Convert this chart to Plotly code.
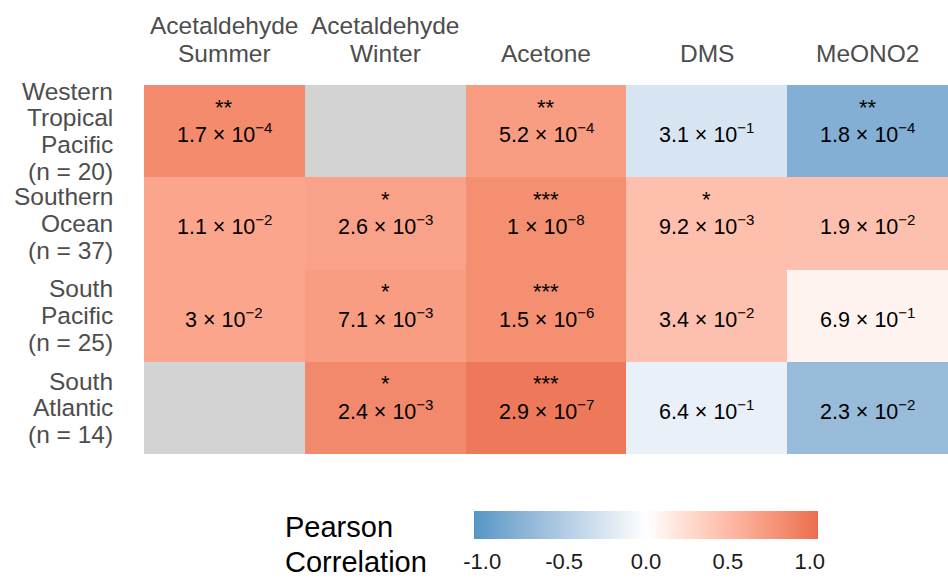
import plotly.graph_objects as go
import numpy as np

# ---------------- data ----------------
compounds = ["Acetaldehyde Summer", "Acetaldehyde Winter", "Acetone", "DMS", "MeONO2"]
compound_label_lines = [["Acetaldehyde", "Summer"], ["Acetaldehyde", "Winter"], ["Acetone"], ["DMS"], ["MeONO2"]]
regions = ["Western Tropical Pacific", "Southern Ocean", "South Pacific", "South Atlantic"]
region_label_lines = [
    ["Western", "Tropical", "Pacific", "(n = 20)"],
    ["Southern", "Ocean", "(n = 37)"],
    ["South", "Pacific", "(n = 25)"],
    ["South", "Atlantic", "(n = 14)"],
]
# Pearson correlation (estimated from tile colours); None = no data
r_wtp = [0.85, None, 0.72, -0.26, -0.80]
r_so = [0.66, 0.68, 0.82, 0.47, 0.46]
r_sp = [0.66, 0.72, 0.82, 0.46, 0.09]
r_sa = [None, 0.86, 0.97, -0.14, -0.67]
# p-values: mantissa and exponent
p_mant = [["1.7", None, "5.2", "3.1", "1.8"],
          ["1.1", "2.6", "1", "9.2", "1.9"],
          ["3", "7.1", "1.5", "3.4", "6.9"],
          [None, "2.4", "2.9", "6.4", "2.3"]]
p_exp = [[-4, None, -4, -1, -4],
         [-2, -3, -8, -3, -2],
         [-2, -3, -6, -2, -1],
         [None, -3, -7, -1, -2]]
stars = [["**", "", "**", "", "**"],
         ["", "*", "***", "*", ""],
         ["", "*", "***", "", ""],
         ["", "*", "***", "", ""]]
cbar_ticks = [-1.0, -0.5, 0.0, 0.5, 1.0]
cbar_ticktext = ["-1.0", "-0.5", "0.0", "0.5", "1.0"]
legend_title_lines = ["Pearson", "Correlation"]

z = [r_wtp, r_so, r_sp, r_sa]
zlim = 1.05

# ---------------- colour scale (Lab interpolation, like ggplot gradient2) ----------------
def _lin(c):
    c = c / 255.0
    return c / 12.92 if c <= 0.04045 else ((c + 0.055) / 1.055) ** 2.4

def _delin(c):
    c = 12.92 * c if c <= 0.0031308 else 1.055 * c ** (1 / 2.4) - 0.055
    return max(0, min(255, round(c * 255)))

M = np.array([[0.4124, 0.3576, 0.1805], [0.2126, 0.7152, 0.0722], [0.0193, 0.1192, 0.9505]])
Minv = np.linalg.inv(M)
WP = np.array([0.95047, 1.0, 1.08883])

def rgb2lab(rgb):
    xyz = M @ np.array([_lin(c) for c in rgb]) / WP
    f = np.where(xyz > 0.008856, np.cbrt(xyz), 7.787 * xyz + 16 / 116)
    return np.array([116 * f[1] - 16, 500 * (f[0] - f[1]), 200 * (f[1] - f[2])])

def lab2rgb(lab):
    fy = (lab[0] + 16) / 116
    fx = fy + lab[1] / 500
    fz = fy - lab[2] / 200
    f = np.array([fx, fy, fz])
    xyz = np.where(f ** 3 > 0.008856, f ** 3, (f - 16 / 116) / 7.787) * WP
    lin = Minv @ xyz
    return [_delin(max(0.0, c)) for c in lin]

low, mid, high = (84, 151, 197), (255, 255, 255), (234, 110, 77)
L_low, L_mid, L_high = rgb2lab(low), rgb2lab(mid), rgb2lab(high)
colorscale = []
n = 20
for i in range(n + 1):
    t = i / n
    if t <= 0.5:
        lab = L_low + (L_mid - L_low) * (t / 0.5)
    else:
        lab = L_mid + (L_high - L_mid) * ((t - 0.5) / 0.5)
    r, g, b = lab2rgb(lab)
    colorscale.append([t, f"rgb({r},{g},{b})"])

FONT = "Liberation Sans, Arial, Helvetica, sans-serif"
PLOT_L, PLOT_T, PLOT_W, PLOT_H = 144, 85, 804, 369

def px_x(px):
    return (px - PLOT_L) / PLOT_W

def px_y(py):
    return (PLOT_T + PLOT_H - py) / PLOT_H

fig = go.Figure()
fig.add_trace(go.Heatmap(
    z=z, x=compounds, y=regions,
    zmin=-zlim, zmax=zlim, colorscale=colorscale,
    hoverongaps=False,
    colorbar=dict(
        orientation="h", lenmode="pixels", len=344, thicknessmode="pixels", thickness=28,
        x=px_x(646), xanchor="center", y=px_y(511), yanchor="top",
        xpad=0, ypad=0, outlinewidth=0,
        tickmode="array", tickvals=cbar_ticks, ticktext=cbar_ticktext,
        ticks="outside", ticklen=4, tickcolor="white", tickwidth=1,
        tickfont=dict(size=22, color="#1a1a1a", family=FONT),
    ),
))

annotations = []
for i, reg in enumerate(regions):
    for j, comp in enumerate(compounds):
        if p_mant[i][j] is None:
            continue
        txt = f"{p_mant[i][j]} × 10<sup>\u2212{abs(p_exp[i][j])}</sup>"
        annotations.append(dict(x=comp, y=reg, xref="x", yref="y", text=txt, showarrow=False,
                                yshift=-2, font=dict(size=21.5, color="black", family=FONT)))
        if stars[i][j]:
            annotations.append(dict(x=comp, y=reg, xref="x", yref="y", text=stars[i][j],
                                    showarrow=False, yshift=24,
                                    font=dict(size=22, color="black", family=FONT)))
    # row labels, one annotation per line
    lines = region_label_lines[i]
    nl = len(lines)
    for k, line in enumerate(lines):
        off = (k - (nl - 1) / 2) * 26.7
        annotations.append(dict(x=px_x(115), y=reg, xref="paper", yref="y", text=line,
                                showarrow=False, xanchor="right", yanchor="middle", yshift=-off,
                                font=dict(size=24.5, color="#4d4d4d", family=FONT)))

# column labels, one annotation per line (bottom line nearest the tiles)
for j, comp in enumerate(compounds):
    lines = compound_label_lines[j]
    nl = len(lines)
    for k, line in enumerate(lines):
        above = (nl - 1 - k) * 28 + 32
        annotations.append(dict(x=comp, y=1, xref="x", yref="paper", text=line, showarrow=False,
                                xanchor="center", yanchor="middle", yshift=above,
                                font=dict(size=24.5, color="#4d4d4d", family=FONT)))

for k, line in enumerate(legend_title_lines):
    annotations.append(dict(x=px_x(283), y=px_y(527 + 35 * k), xref="paper", yref="paper",
                            text=line, showarrow=False, xanchor="left", yanchor="middle",
                            font=dict(size=29, color="black", family=FONT)))

fig.update_layout(
    width=948, height=578,
    margin=dict(l=PLOT_L, r=948 - PLOT_L - PLOT_W, t=PLOT_T, b=578 - PLOT_T - PLOT_H, autoexpand=False),
    paper_bgcolor="white", plot_bgcolor="#d3d3d3",
    font=dict(family=FONT),
    annotations=annotations,
    xaxis=dict(side="top", showgrid=False, zeroline=False, showline=False, ticks="",
               range=[-0.5, 4.5], showticklabels=False),
    yaxis=dict(range=[3.5, -0.5], showgrid=False, zeroline=False, showline=False,
               showticklabels=False, ticks=""),
)

fig.write_html("out.html", config={"displayModeBar": False},
               post_script="document.body.style.margin='0px';")
